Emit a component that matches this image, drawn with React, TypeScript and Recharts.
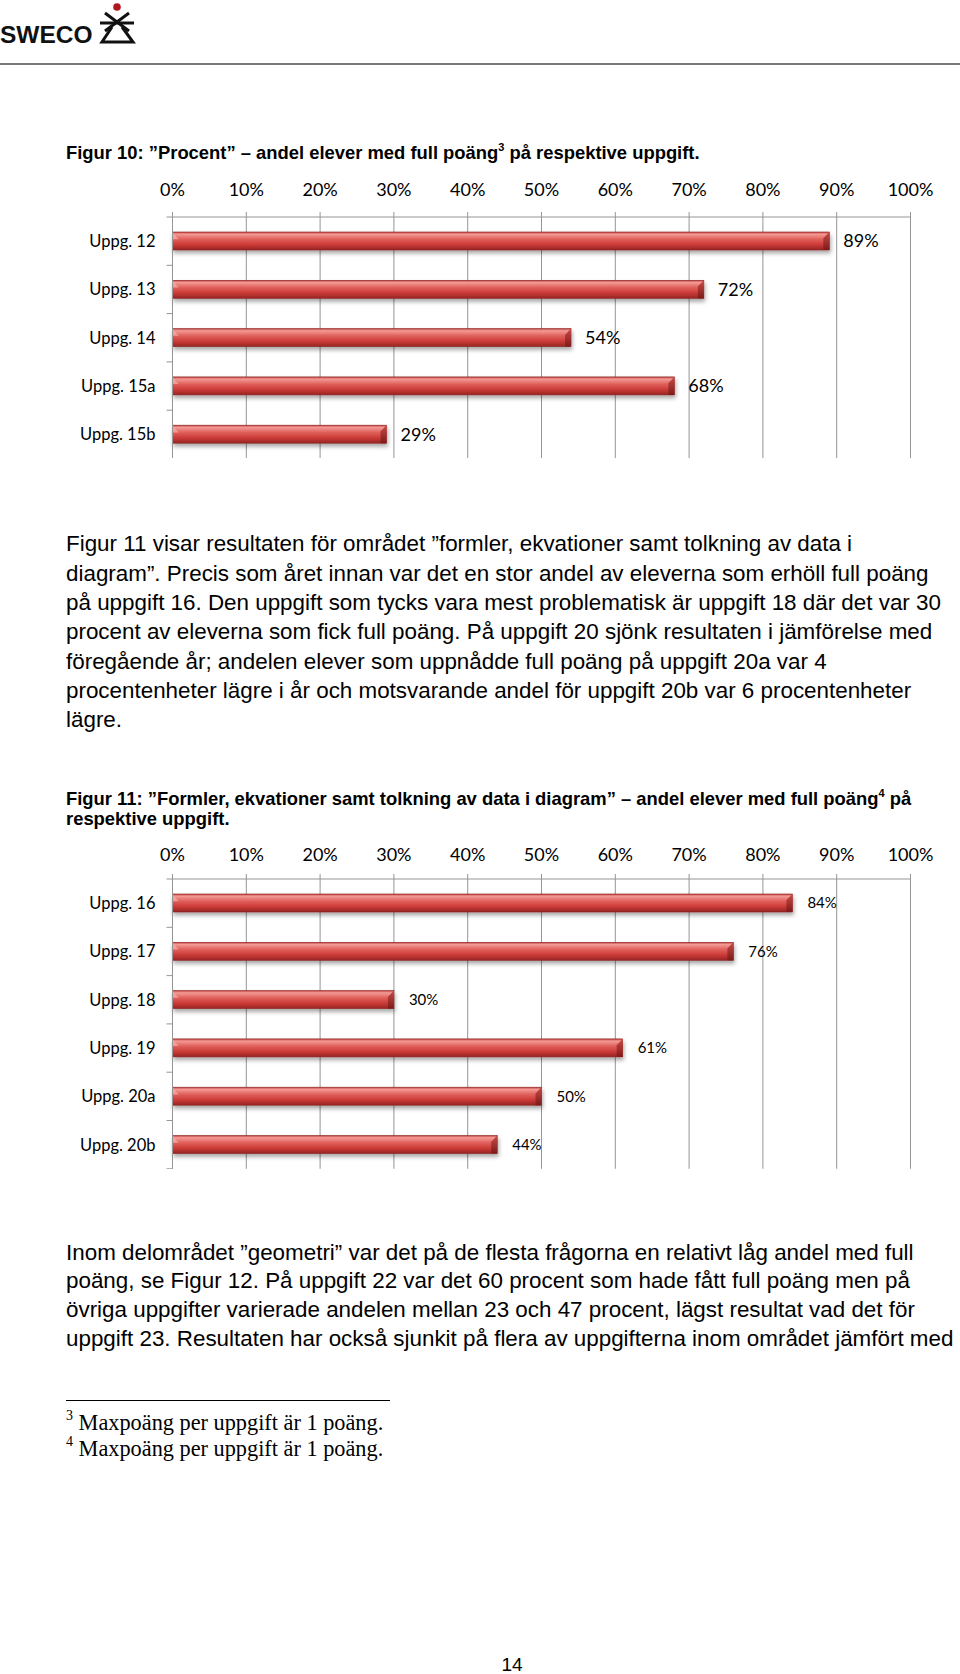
import React from 'react';
import { BarChart, Bar, XAxis, YAxis, CartesianGrid, LabelList } from 'recharts';

// Figur 10
const fig10Tasks = ['Uppg. 12', 'Uppg. 13', 'Uppg. 14', 'Uppg. 15a', 'Uppg. 15b'];
const fig10Values = [89, 72, 54, 68, 29];

// Figur 11
const fig11Tasks = ['Uppg. 16', 'Uppg. 17', 'Uppg. 18', 'Uppg. 19', 'Uppg. 20a', 'Uppg. 20b'];
const fig11Values = [84, 76, 30, 61, 50, 44];

const percentTicks = [0, 10, 20, 30, 40, 50, 60, 70, 80, 90, 100];

const text1 = [
  'Figur 11 visar resultaten för området ”formler, ekvationer samt tolkning av data i',
  'diagram”. Precis som året innan var det en stor andel av eleverna som erhöll full poäng',
  'på uppgift 16. Den uppgift som tycks vara mest problematisk är uppgift 18 där det var 30',
  'procent av eleverna som fick full poäng. På uppgift 20 sjönk resultaten i jämförelse med',
  'föregående år; andelen elever som uppnådde full poäng på uppgift 20a var 4',
  'procentenheter lägre i år och motsvarande andel för uppgift 20b var 6 procentenheter',
  'lägre.',
];

const text2 = [
  'Inom delområdet ”geometri” var det på de flesta frågorna en relativt låg andel med full',
  'poäng, se Figur 12. På uppgift 22 var det 60 procent som hade fått full poäng men på',
  'övriga uppgifter varierade andelen mellan 23 och 47 procent, lägst resultat vad det för',
  'uppgift 23. Resultaten har också sjunkit på flera av uppgifterna inom området jämfört med',
];

const GRID = '#959595';
const CHART_FONT = 'Lato, "Open Sans", sans-serif';
const BODY_FONT = '"Liberation Sans", Arial, sans-serif';
const SERIF_FONT = '"Liberation Serif", "Times New Roman", serif';
const BAND = 48.3;
const AXIS_H = 40;

const TubeBar = (props: any) => {
  const { x, y, width, height } = props;
  if (!width || width <= 0) return null;
  const cap = Math.min(6, width / 2);
  return (
    <g filter="url(#barShadow)">
      <rect x={x} y={y} width={width} height={height} fill="url(#barFill)" stroke="#8a2422" strokeWidth={0.6} />
      <polygon
        points={`${x},${y} ${x + cap},${y + height * 0.4} ${x},${y + height * 0.4}`}
        fill="#f4a7a2"
        opacity={0.8}
      />
      <polygon
        points={`${x + width - cap},${y + height * 0.35} ${x + width},${y} ${x + width},${y + height} ${x + width - cap},${y + height}`}
        fill="url(#capFill)"
      />
    </g>
  );
};

const CategoryTick = (props: any) => {
  const { x, y, payload, index } = props;
  return (
    <g>
      <text
        x={x - 17}
        y={y}
        dy="0.36em"
        textAnchor="end"
        fill="#000"
        fontSize={16.5}
        fontFamily={CHART_FONT}
      >
        {payload.value}
      </text>
      {index === 0 && <line x1={x - 6} x2={x} y1={y - BAND / 2} y2={y - BAND / 2} stroke={GRID} />}
      <line x1={x - 6} x2={x} y1={y + BAND / 2} y2={y + BAND / 2} stroke={GRID} />
    </g>
  );
};

function PercentChart({ tasks, values, top, labelSize, labelOffset, tickGap }: any) {
  const data = tasks.map((t: string, i: number) => ({ task: t, value: values[i] }));
  const height = AXIS_H + BAND * tasks.length;
  return (
    <div style={{ position: 'absolute', left: 0, top: top - AXIS_H }}>
      <BarChart
        width={960}
        height={height}
        data={data}
        layout="vertical"
        margin={{ top: 0, right: 49.5, left: 0, bottom: 0 }}
        barCategoryGap={0}
      >
        <CartesianGrid horizontal={false} stroke={GRID} />
        <XAxis
          type="number"
          orientation="top"
          domain={[0, 100]}
          ticks={percentTicks}
          interval={0}
          height={AXIS_H}
          tickFormatter={(v: number) => `${v}%`}
          axisLine={{ stroke: GRID }}
          tickLine={{ stroke: GRID }}
          tickSize={5}
          tickMargin={tickGap}
          tick={{ fill: '#000', fontSize: 18, fontFamily: CHART_FONT }}
        />
        <YAxis
          type="category"
          dataKey="task"
          width={172.5}
          axisLine={{ stroke: GRID }}
          tickLine={false}
          tickSize={0}
          tickMargin={0}
          interval={0}
          tick={<CategoryTick />}
        />
        <Bar dataKey="value" barSize={18} shape={<TubeBar />} isAnimationActive={false}>
          <LabelList
            dataKey="value"
            position="right"
            offset={labelOffset}
            formatter={(v: any) => `${v}%`}
            fill="#000"
            fontSize={labelSize}
            fontFamily={CHART_FONT}
          />
        </Bar>
      </BarChart>
    </div>
  );
}

function Lines({ lines, top, lineHeight, fontSize }: any) {
  return (
    <div
      style={{
        position: 'absolute',
        left: 66,
        top,
        fontFamily: BODY_FONT,
        fontSize,
        lineHeight: `${lineHeight}px`,
        color: '#000',
        whiteSpace: 'nowrap',
      }}
    >
      {lines.map((l: string, i: number) => (
        <div key={i}>{l}</div>
      ))}
    </div>
  );
}

const Sup = ({ children, size }: any) => (
  <span style={{ fontSize: size, position: 'relative', top: '-0.7em', lineHeight: 0 }}>{children}</span>
);

function Logo() {
  return (
    <div style={{ position: 'absolute', left: 0, top: 0 }}>
      <svg width={140} height={50}>
        <text x={0} y={43} fontFamily={BODY_FONT} fontWeight="bold" fontSize={24.5} fill="#111">
          SWECO
        </text>
        <circle cx={117} cy={7} r={3.8} fill="#b0161b" />
        <g stroke="#111" strokeWidth={3} fill="none" strokeLinecap="butt">
          <line x1={105} y1={13} x2={129} y2={31} />
          <line x1={129} y1={13} x2={105} y2={31} />
          <line x1={100} y1={23} x2={134} y2={23} />
          <polyline points="112,27 102,42 133,42 122,27" />
        </g>
      </svg>
    </div>
  );
}

const titleStyle: React.CSSProperties = {
  position: 'absolute',
  left: 66,
  fontFamily: BODY_FONT,
  fontWeight: 'bold',
  fontSize: 18.4,
  lineHeight: '20.3px',
  whiteSpace: 'nowrap',
};

export default function App() {
  return (
    <div style={{ position: 'absolute', left: 0, top: 0, width: 960, height: 1674, background: '#fff', overflow: 'hidden' }}>
      <svg width={0} height={0} style={{ position: 'absolute' }}>
        <defs>
          <linearGradient id="barFill" x1="0" y1="0" x2="0" y2="1">
            <stop offset="0" stopColor="#c0403c" />
            <stop offset="0.12" stopColor="#f39a95" />
            <stop offset="0.4" stopColor="#e0605b" />
            <stop offset="0.7" stopColor="#cc3b37" />
            <stop offset="1" stopColor="#962423" />
          </linearGradient>
          <linearGradient id="capFill" x1="0" y1="0" x2="0" y2="1">
            <stop offset="0" stopColor="#c94a46" />
            <stop offset="1" stopColor="#7e1b1a" />
          </linearGradient>
          <filter id="barShadow" x="-5%" y="-30%" width="110%" height="180%">
            <feDropShadow dx="1" dy="3" stdDeviation="2" floodColor="#000" floodOpacity="0.35" />
          </filter>
        </defs>
      </svg>

      <Logo />
      <div style={{ position: 'absolute', left: 0, top: 63, width: 960, height: 2, background: '#7a7a7a' }} />

      <div style={{ ...titleStyle, top: 143 }}>
        Figur 10: ”Procent” – andel elever med full poäng<Sup size={11}>3</Sup> på respektive uppgift.
      </div>

      <PercentChart tasks={fig10Tasks} values={fig10Values} top={216.7} labelSize={18} labelOffset={14} tickGap={16} />

      <Lines lines={text1} top={529.4} lineHeight={29.3} fontSize={22.4} />

      <div style={{ ...titleStyle, top: 789 }}>
        <div>
          Figur 11: ”Formler, ekvationer samt tolkning av data i diagram” – andel elever med full poäng
          <Sup size={11}>4</Sup> på
        </div>
        <div>respektive uppgift.</div>
      </div>

      <PercentChart tasks={fig11Tasks} values={fig11Values} top={879.3} labelSize={15} labelOffset={15} tickGap={13} />

      <Lines lines={text2} top={1238.5} lineHeight={28.8} fontSize={22.4} />

      <div style={{ position: 'absolute', left: 66, top: 1400, width: 324, height: 1, background: '#000' }} />
      <div
        style={{
          position: 'absolute',
          left: 66,
          top: 1410,
          fontFamily: SERIF_FONT,
          fontSize: 22.3,
          lineHeight: '25.6px',
          whiteSpace: 'nowrap',
        }}
      >
        <div>
          <Sup size={14}>3</Sup> Maxpoäng per uppgift är 1 poäng.
        </div>
        <div>
          <Sup size={14}>4</Sup> Maxpoäng per uppgift är 1 poäng.
        </div>
      </div>

      <div
        style={{
          position: 'absolute',
          left: 492,
          width: 40,
          top: 1654,
          textAlign: 'center',
          fontFamily: BODY_FONT,
          fontSize: 19,
          lineHeight: '22px',
        }}
      >
        14
      </div>
    </div>
  );
}
